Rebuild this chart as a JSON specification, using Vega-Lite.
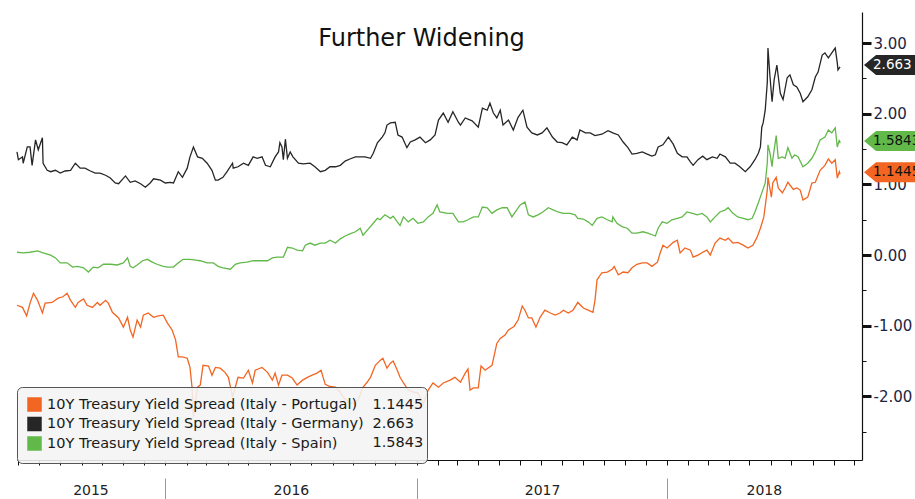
{
  "$schema": "https://vega.github.io/schema/vega-lite/v6.json",
  "width": 845,
  "height": 448,
  "autosize": {"type": "none"},
  "padding": {"left": 17, "top": 12, "right": 53, "bottom": 39},
  "background": "white",
  "title": {"text": "Further Widening", "anchor": "middle", "frame": "group", "fontSize": 24, "font": "DejaVu Sans", "fontWeight": "normal", "color": "#111", "offset": 0, "baseline": "bottom", "dy": 63, "dx": -18},
  "config": {"view": {"stroke": null}},
  "datasets": {
    "spreads": [
      {"date":"2015-05-30","series":"Germany","value":1.46},{"date":"2015-06-01","series":"Germany","value":1.35},{"date":"2015-06-07","series":"Germany","value":1.39},{"date":"2015-06-08","series":"Germany","value":1.30},{"date":"2015-06-14","series":"Germany","value":1.53},{"date":"2015-06-18","series":"Germany","value":1.53},{"date":"2015-06-21","series":"Germany","value":1.27},{"date":"2015-06-26","series":"Germany","value":1.63},{"date":"2015-06-30","series":"Germany","value":1.49},{"date":"2015-07-06","series":"Germany","value":1.66},{"date":"2015-07-07","series":"Germany","value":1.30},{"date":"2015-07-13","series":"Germany","value":1.20},{"date":"2015-07-18","series":"Germany","value":1.18},{"date":"2015-07-25","series":"Germany","value":1.20},{"date":"2015-08-01","series":"Germany","value":1.16},{"date":"2015-08-08","series":"Germany","value":1.19},{"date":"2015-08-16","series":"Germany","value":1.20},{"date":"2015-08-23","series":"Germany","value":1.30},{"date":"2015-08-30","series":"Germany","value":1.23},{"date":"2015-09-06","series":"Germany","value":1.23},{"date":"2015-09-14","series":"Germany","value":1.19},{"date":"2015-09-21","series":"Germany","value":1.16},{"date":"2015-09-28","series":"Germany","value":1.16},{"date":"2015-10-06","series":"Germany","value":1.13},{"date":"2015-10-13","series":"Germany","value":1.09},{"date":"2015-10-20","series":"Germany","value":1.02},{"date":"2015-10-25","series":"Germany","value":1.01},{"date":"2015-11-04","series":"Germany","value":1.12},{"date":"2015-11-11","series":"Germany","value":1.03},{"date":"2015-11-18","series":"Germany","value":1.05},{"date":"2015-11-26","series":"Germany","value":1.01},{"date":"2015-12-03","series":"Germany","value":0.96},{"date":"2015-12-10","series":"Germany","value":1.02},{"date":"2015-12-15","series":"Germany","value":1.08},{"date":"2015-12-25","series":"Germany","value":1.06},{"date":"2016-01-01","series":"Germany","value":1.02},{"date":"2016-01-08","series":"Germany","value":1.03},{"date":"2016-01-13","series":"Germany","value":1.02},{"date":"2016-01-20","series":"Germany","value":1.18},{"date":"2016-01-26","series":"Germany","value":1.10},{"date":"2016-02-02","series":"Germany","value":1.23},{"date":"2016-02-06","series":"Germany","value":1.39},{"date":"2016-02-11","series":"Germany","value":1.53},{"date":"2016-02-17","series":"Germany","value":1.39},{"date":"2016-02-24","series":"Germany","value":1.37},{"date":"2016-03-02","series":"Germany","value":1.30},{"date":"2016-03-09","series":"Germany","value":1.20},{"date":"2016-03-14","series":"Germany","value":1.06},{"date":"2016-03-18","series":"Germany","value":1.06},{"date":"2016-03-25","series":"Germany","value":1.10},{"date":"2016-03-31","series":"Germany","value":1.18},{"date":"2016-04-08","series":"Germany","value":1.30},{"date":"2016-04-09","series":"Germany","value":1.23},{"date":"2016-04-16","series":"Germany","value":1.25},{"date":"2016-04-24","series":"Germany","value":1.30},{"date":"2016-05-01","series":"Germany","value":1.27},{"date":"2016-05-08","series":"Germany","value":1.39},{"date":"2016-05-14","series":"Germany","value":1.37},{"date":"2016-05-21","series":"Germany","value":1.39},{"date":"2016-05-26","series":"Germany","value":1.27},{"date":"2016-06-02","series":"Germany","value":1.25},{"date":"2016-06-09","series":"Germany","value":1.39},{"date":"2016-06-14","series":"Germany","value":1.46},{"date":"2016-06-16","series":"Germany","value":1.59},{"date":"2016-06-19","series":"Germany","value":1.53},{"date":"2016-06-21","series":"Germany","value":1.35},{"date":"2016-06-24","series":"Germany","value":1.64},{"date":"2016-06-27","series":"Germany","value":1.37},{"date":"2016-07-01","series":"Germany","value":1.46},{"date":"2016-07-05","series":"Germany","value":1.39},{"date":"2016-07-13","series":"Germany","value":1.30},{"date":"2016-07-20","series":"Germany","value":1.29},{"date":"2016-07-30","series":"Germany","value":1.30},{"date":"2016-08-06","series":"Germany","value":1.25},{"date":"2016-08-14","series":"Germany","value":1.18},{"date":"2016-08-21","series":"Germany","value":1.20},{"date":"2016-08-28","series":"Germany","value":1.25},{"date":"2016-09-05","series":"Germany","value":1.25},{"date":"2016-09-12","series":"Germany","value":1.27},{"date":"2016-09-19","series":"Germany","value":1.33},{"date":"2016-09-26","series":"Germany","value":1.36},{"date":"2016-10-04","series":"Germany","value":1.39},{"date":"2016-10-11","series":"Germany","value":1.39},{"date":"2016-10-18","series":"Germany","value":1.39},{"date":"2016-10-26","series":"Germany","value":1.37},{"date":"2016-10-30","series":"Germany","value":1.44},{"date":"2016-11-05","series":"Germany","value":1.59},{"date":"2016-11-12","series":"Germany","value":1.67},{"date":"2016-11-16","series":"Germany","value":1.73},{"date":"2016-11-19","series":"Germany","value":1.84},{"date":"2016-11-24","series":"Germany","value":1.87},{"date":"2016-12-01","series":"Germany","value":1.88},{"date":"2016-12-05","series":"Germany","value":1.70},{"date":"2016-12-11","series":"Germany","value":1.67},{"date":"2016-12-18","series":"Germany","value":1.52},{"date":"2016-12-23","series":"Germany","value":1.60},{"date":"2016-12-30","series":"Germany","value":1.63},{"date":"2017-01-06","series":"Germany","value":1.67},{"date":"2017-01-14","series":"Germany","value":1.59},{"date":"2017-01-21","series":"Germany","value":1.63},{"date":"2017-01-28","series":"Germany","value":1.70},{"date":"2017-02-02","series":"Germany","value":1.91},{"date":"2017-02-09","series":"Germany","value":2.01},{"date":"2017-02-16","series":"Germany","value":1.88},{"date":"2017-02-23","series":"Germany","value":2.03},{"date":"2017-03-03","series":"Germany","value":1.88},{"date":"2017-03-06","series":"Germany","value":1.84},{"date":"2017-03-13","series":"Germany","value":1.94},{"date":"2017-03-23","series":"Germany","value":1.90},{"date":"2017-04-01","series":"Germany","value":1.81},{"date":"2017-04-07","series":"Germany","value":2.08},{"date":"2017-04-14","series":"Germany","value":2.05},{"date":"2017-04-18","series":"Germany","value":2.15},{"date":"2017-04-23","series":"Germany","value":2.01},{"date":"2017-04-28","series":"Germany","value":1.94},{"date":"2017-05-03","series":"Germany","value":2.05},{"date":"2017-05-07","series":"Germany","value":1.84},{"date":"2017-05-15","series":"Germany","value":1.91},{"date":"2017-05-22","series":"Germany","value":1.77},{"date":"2017-05-29","series":"Germany","value":1.95},{"date":"2017-06-05","series":"Germany","value":2.05},{"date":"2017-06-11","series":"Germany","value":1.81},{"date":"2017-06-18","series":"Germany","value":1.73},{"date":"2017-06-26","series":"Germany","value":1.70},{"date":"2017-07-03","series":"Germany","value":1.73},{"date":"2017-07-10","series":"Germany","value":1.80},{"date":"2017-07-18","series":"Germany","value":1.67},{"date":"2017-07-25","series":"Germany","value":1.60},{"date":"2017-08-01","series":"Germany","value":1.59},{"date":"2017-08-08","series":"Germany","value":1.56},{"date":"2017-08-16","series":"Germany","value":1.67},{"date":"2017-08-23","series":"Germany","value":1.63},{"date":"2017-08-27","series":"Germany","value":1.77},{"date":"2017-09-04","series":"Germany","value":1.73},{"date":"2017-09-11","series":"Germany","value":1.73},{"date":"2017-09-18","series":"Germany","value":1.69},{"date":"2017-09-28","series":"Germany","value":1.71},{"date":"2017-10-07","series":"Germany","value":1.76},{"date":"2017-10-14","series":"Germany","value":1.73},{"date":"2017-10-22","series":"Germany","value":1.70},{"date":"2017-10-29","series":"Germany","value":1.60},{"date":"2017-11-05","series":"Germany","value":1.52},{"date":"2017-11-11","series":"Germany","value":1.43},{"date":"2017-11-18","series":"Germany","value":1.44},{"date":"2017-11-26","series":"Germany","value":1.46},{"date":"2017-12-03","series":"Germany","value":1.43},{"date":"2017-12-10","series":"Germany","value":1.40},{"date":"2017-12-15","series":"Germany","value":1.42},{"date":"2017-12-19","series":"Germany","value":1.53},{"date":"2017-12-26","series":"Germany","value":1.56},{"date":"2018-01-03","series":"Germany","value":1.67},{"date":"2018-01-10","series":"Germany","value":1.57},{"date":"2018-01-16","series":"Germany","value":1.44},{"date":"2018-01-23","series":"Germany","value":1.39},{"date":"2018-01-30","series":"Germany","value":1.39},{"date":"2018-02-04","series":"Germany","value":1.32},{"date":"2018-02-08","series":"Germany","value":1.27},{"date":"2018-02-15","series":"Germany","value":1.35},{"date":"2018-02-22","series":"Germany","value":1.40},{"date":"2018-02-28","series":"Germany","value":1.35},{"date":"2018-03-08","series":"Germany","value":1.39},{"date":"2018-03-15","series":"Germany","value":1.37},{"date":"2018-03-19","series":"Germany","value":1.43},{"date":"2018-03-27","series":"Germany","value":1.39},{"date":"2018-04-03","series":"Germany","value":1.30},{"date":"2018-04-10","series":"Germany","value":1.30},{"date":"2018-04-17","series":"Germany","value":1.25},{"date":"2018-04-25","series":"Germany","value":1.18},{"date":"2018-05-02","series":"Germany","value":1.25},{"date":"2018-05-09","series":"Germany","value":1.35},{"date":"2018-05-14","series":"Germany","value":1.44},{"date":"2018-05-17","series":"Germany","value":1.53},{"date":"2018-05-19","series":"Germany","value":1.81},{"date":"2018-05-21","series":"Germany","value":1.87},{"date":"2018-05-24","series":"Germany","value":2.05},{"date":"2018-05-27","series":"Germany","value":2.44},{"date":"2018-05-28","series":"Germany","value":2.93},{"date":"2018-05-31","series":"Germany","value":2.52},{"date":"2018-06-03","series":"Germany","value":2.17},{"date":"2018-06-06","series":"Germany","value":2.48},{"date":"2018-06-10","series":"Germany","value":2.69},{"date":"2018-06-15","series":"Germany","value":2.29},{"date":"2018-06-19","series":"Germany","value":2.20},{"date":"2018-06-25","series":"Germany","value":2.51},{"date":"2018-06-29","series":"Germany","value":2.55},{"date":"2018-07-04","series":"Germany","value":2.41},{"date":"2018-07-09","series":"Germany","value":2.38},{"date":"2018-07-14","series":"Germany","value":2.29},{"date":"2018-07-18","series":"Germany","value":2.17},{"date":"2018-07-25","series":"Germany","value":2.24},{"date":"2018-07-31","series":"Germany","value":2.34},{"date":"2018-08-05","series":"Germany","value":2.52},{"date":"2018-08-09","series":"Germany","value":2.59},{"date":"2018-08-15","series":"Germany","value":2.83},{"date":"2018-08-19","series":"Germany","value":2.86},{"date":"2018-08-24","series":"Germany","value":2.79},{"date":"2018-08-29","series":"Germany","value":2.86},{"date":"2018-09-03","series":"Germany","value":2.93},{"date":"2018-09-06","series":"Germany","value":2.72},{"date":"2018-09-07","series":"Germany","value":2.62},{"date":"2018-09-10","series":"Germany","value":2.663},
      {"date":"2015-05-30","series":"Spain","value":0.04},{"date":"2015-06-08","series":"Spain","value":0.03},{"date":"2015-06-18","series":"Spain","value":0.04},{"date":"2015-06-29","series":"Spain","value":0.06},{"date":"2015-07-07","series":"Spain","value":0.03},{"date":"2015-07-18","series":"Spain","value":0.00},{"date":"2015-07-25","series":"Spain","value":-0.04},{"date":"2015-08-01","series":"Spain","value":-0.11},{"date":"2015-08-11","series":"Spain","value":-0.11},{"date":"2015-08-19","series":"Spain","value":-0.17},{"date":"2015-08-26","series":"Spain","value":-0.16},{"date":"2015-09-04","series":"Spain","value":-0.18},{"date":"2015-09-11","series":"Spain","value":-0.24},{"date":"2015-09-18","series":"Spain","value":-0.17},{"date":"2015-09-25","series":"Spain","value":-0.18},{"date":"2015-10-03","series":"Spain","value":-0.13},{"date":"2015-10-13","series":"Spain","value":-0.13},{"date":"2015-10-23","series":"Spain","value":-0.14},{"date":"2015-11-01","series":"Spain","value":-0.11},{"date":"2015-11-07","series":"Spain","value":-0.04},{"date":"2015-11-11","series":"Spain","value":-0.16},{"date":"2015-11-15","series":"Spain","value":-0.18},{"date":"2015-11-21","series":"Spain","value":-0.14},{"date":"2015-11-29","series":"Spain","value":-0.08},{"date":"2015-12-06","series":"Spain","value":-0.06},{"date":"2015-12-13","series":"Spain","value":-0.10},{"date":"2015-12-20","series":"Spain","value":-0.13},{"date":"2015-12-29","series":"Spain","value":-0.16},{"date":"2016-01-05","series":"Spain","value":-0.17},{"date":"2016-01-13","series":"Spain","value":-0.17},{"date":"2016-01-20","series":"Spain","value":-0.11},{"date":"2016-01-27","series":"Spain","value":-0.06},{"date":"2016-02-06","series":"Spain","value":-0.06},{"date":"2016-02-14","series":"Spain","value":-0.07},{"date":"2016-02-21","series":"Spain","value":-0.08},{"date":"2016-03-02","series":"Spain","value":-0.11},{"date":"2016-03-11","series":"Spain","value":-0.11},{"date":"2016-03-18","series":"Spain","value":-0.16},{"date":"2016-03-25","series":"Spain","value":-0.18},{"date":"2016-04-05","series":"Spain","value":-0.20},{"date":"2016-04-12","series":"Spain","value":-0.13},{"date":"2016-04-19","series":"Spain","value":-0.11},{"date":"2016-04-29","series":"Spain","value":-0.10},{"date":"2016-05-08","series":"Spain","value":-0.08},{"date":"2016-05-18","series":"Spain","value":-0.08},{"date":"2016-05-29","series":"Spain","value":-0.08},{"date":"2016-06-05","series":"Spain","value":-0.04},{"date":"2016-06-12","series":"Spain","value":-0.03},{"date":"2016-06-21","series":"Spain","value":-0.03},{"date":"2016-06-27","series":"Spain","value":0.11},{"date":"2016-07-04","series":"Spain","value":0.10},{"date":"2016-07-11","series":"Spain","value":0.07},{"date":"2016-07-19","series":"Spain","value":0.06},{"date":"2016-07-23","series":"Spain","value":0.14},{"date":"2016-07-30","series":"Spain","value":0.17},{"date":"2016-08-06","series":"Spain","value":0.14},{"date":"2016-08-14","series":"Spain","value":0.17},{"date":"2016-08-21","series":"Spain","value":0.17},{"date":"2016-08-28","series":"Spain","value":0.21},{"date":"2016-09-05","series":"Spain","value":0.17},{"date":"2016-09-12","series":"Spain","value":0.23},{"date":"2016-09-19","series":"Spain","value":0.27},{"date":"2016-09-26","series":"Spain","value":0.30},{"date":"2016-10-04","series":"Spain","value":0.33},{"date":"2016-10-11","series":"Spain","value":0.38},{"date":"2016-10-15","series":"Spain","value":0.28},{"date":"2016-10-23","series":"Spain","value":0.37},{"date":"2016-10-30","series":"Spain","value":0.45},{"date":"2016-11-05","series":"Spain","value":0.52},{"date":"2016-11-09","series":"Spain","value":0.50},{"date":"2016-11-16","series":"Spain","value":0.57},{"date":"2016-11-24","series":"Spain","value":0.52},{"date":"2016-11-28","series":"Spain","value":0.55},{"date":"2016-12-04","series":"Spain","value":0.47},{"date":"2016-12-08","series":"Spain","value":0.42},{"date":"2016-12-13","series":"Spain","value":0.54},{"date":"2016-12-20","series":"Spain","value":0.47},{"date":"2016-12-27","series":"Spain","value":0.52},{"date":"2017-01-03","series":"Spain","value":0.45},{"date":"2017-01-11","series":"Spain","value":0.47},{"date":"2017-01-18","series":"Spain","value":0.54},{"date":"2017-01-25","series":"Spain","value":0.59},{"date":"2017-01-31","series":"Spain","value":0.71},{"date":"2017-02-04","series":"Spain","value":0.61},{"date":"2017-02-15","series":"Spain","value":0.59},{"date":"2017-02-23","series":"Spain","value":0.59},{"date":"2017-03-03","series":"Spain","value":0.47},{"date":"2017-03-10","series":"Spain","value":0.47},{"date":"2017-03-17","series":"Spain","value":0.50},{"date":"2017-03-25","series":"Spain","value":0.54},{"date":"2017-04-01","series":"Spain","value":0.54},{"date":"2017-04-07","series":"Spain","value":0.68},{"date":"2017-04-14","series":"Spain","value":0.67},{"date":"2017-04-21","series":"Spain","value":0.59},{"date":"2017-04-28","series":"Spain","value":0.64},{"date":"2017-05-06","series":"Spain","value":0.67},{"date":"2017-05-13","series":"Spain","value":0.67},{"date":"2017-05-20","series":"Spain","value":0.54},{"date":"2017-05-25","series":"Spain","value":0.61},{"date":"2017-06-01","series":"Spain","value":0.71},{"date":"2017-06-08","series":"Spain","value":0.75},{"date":"2017-06-13","series":"Spain","value":0.57},{"date":"2017-06-20","series":"Spain","value":0.54},{"date":"2017-06-27","series":"Spain","value":0.57},{"date":"2017-07-04","series":"Spain","value":0.61},{"date":"2017-07-12","series":"Spain","value":0.67},{"date":"2017-07-19","series":"Spain","value":0.64},{"date":"2017-07-26","series":"Spain","value":0.61},{"date":"2017-08-03","series":"Spain","value":0.59},{"date":"2017-08-13","series":"Spain","value":0.59},{"date":"2017-08-20","series":"Spain","value":0.57},{"date":"2017-08-24","series":"Spain","value":0.52},{"date":"2017-09-01","series":"Spain","value":0.51},{"date":"2017-09-08","series":"Spain","value":0.47},{"date":"2017-09-14","series":"Spain","value":0.42},{"date":"2017-09-21","series":"Spain","value":0.52},{"date":"2017-09-28","series":"Spain","value":0.54},{"date":"2017-10-06","series":"Spain","value":0.50},{"date":"2017-10-13","series":"Spain","value":0.47},{"date":"2017-10-14","series":"Spain","value":0.54},{"date":"2017-10-20","series":"Spain","value":0.45},{"date":"2017-10-28","series":"Spain","value":0.40},{"date":"2017-11-04","series":"Spain","value":0.38},{"date":"2017-11-11","series":"Spain","value":0.31},{"date":"2017-11-18","series":"Spain","value":0.31},{"date":"2017-11-27","series":"Spain","value":0.33},{"date":"2017-12-04","series":"Spain","value":0.31},{"date":"2017-12-15","series":"Spain","value":0.27},{"date":"2017-12-19","series":"Spain","value":0.38},{"date":"2017-12-25","series":"Spain","value":0.47},{"date":"2018-01-01","series":"Spain","value":0.45},{"date":"2018-01-08","series":"Spain","value":0.50},{"date":"2018-01-16","series":"Spain","value":0.52},{"date":"2018-01-23","series":"Spain","value":0.54},{"date":"2018-01-30","series":"Spain","value":0.61},{"date":"2018-02-07","series":"Spain","value":0.59},{"date":"2018-02-14","series":"Spain","value":0.57},{"date":"2018-02-21","series":"Spain","value":0.59},{"date":"2018-02-28","series":"Spain","value":0.54},{"date":"2018-03-05","series":"Spain","value":0.47},{"date":"2018-03-12","series":"Spain","value":0.54},{"date":"2018-03-19","series":"Spain","value":0.61},{"date":"2018-03-27","series":"Spain","value":0.64},{"date":"2018-03-31","series":"Spain","value":0.67},{"date":"2018-04-07","series":"Spain","value":0.59},{"date":"2018-04-14","series":"Spain","value":0.54},{"date":"2018-04-22","series":"Spain","value":0.52},{"date":"2018-04-29","series":"Spain","value":0.50},{"date":"2018-05-05","series":"Spain","value":0.52},{"date":"2018-05-09","series":"Spain","value":0.61},{"date":"2018-05-14","series":"Spain","value":0.74},{"date":"2018-05-19","series":"Spain","value":0.88},{"date":"2018-05-24","series":"Spain","value":1.02},{"date":"2018-05-27","series":"Spain","value":1.30},{"date":"2018-05-28","series":"Spain","value":1.56},{"date":"2018-05-31","series":"Spain","value":1.44},{"date":"2018-06-03","series":"Spain","value":1.25},{"date":"2018-06-04","series":"Spain","value":1.35},{"date":"2018-06-09","series":"Spain","value":1.69},{"date":"2018-06-12","series":"Spain","value":1.37},{"date":"2018-06-18","series":"Spain","value":1.39},{"date":"2018-06-22","series":"Spain","value":1.37},{"date":"2018-06-26","series":"Spain","value":1.52},{"date":"2018-07-02","series":"Spain","value":1.37},{"date":"2018-07-06","series":"Spain","value":1.42},{"date":"2018-07-11","series":"Spain","value":1.39},{"date":"2018-07-18","series":"Spain","value":1.25},{"date":"2018-07-25","series":"Spain","value":1.30},{"date":"2018-07-31","series":"Spain","value":1.37},{"date":"2018-08-05","series":"Spain","value":1.46},{"date":"2018-08-12","series":"Spain","value":1.63},{"date":"2018-08-19","series":"Spain","value":1.67},{"date":"2018-08-24","series":"Spain","value":1.77},{"date":"2018-08-29","series":"Spain","value":1.73},{"date":"2018-09-03","series":"Spain","value":1.80},{"date":"2018-09-06","series":"Spain","value":1.53},{"date":"2018-09-09","series":"Spain","value":1.63},{"date":"2018-09-10","series":"Spain","value":1.5843},
      {"date":"2015-05-30","series":"Portugal","value":-0.71},{"date":"2015-06-07","series":"Portugal","value":-0.74},{"date":"2015-06-13","series":"Portugal","value":-0.86},{"date":"2015-06-18","series":"Portugal","value":-0.68},{"date":"2015-06-23","series":"Portugal","value":-0.54},{"date":"2015-06-29","series":"Portugal","value":-0.64},{"date":"2015-07-06","series":"Portugal","value":-0.82},{"date":"2015-07-10","series":"Portugal","value":-0.68},{"date":"2015-07-20","series":"Portugal","value":-0.67},{"date":"2015-07-29","series":"Portugal","value":-0.61},{"date":"2015-08-05","series":"Portugal","value":-0.59},{"date":"2015-08-11","series":"Portugal","value":-0.54},{"date":"2015-08-16","series":"Portugal","value":-0.64},{"date":"2015-08-23","series":"Portugal","value":-0.74},{"date":"2015-08-27","series":"Portugal","value":-0.67},{"date":"2015-09-04","series":"Portugal","value":-0.62},{"date":"2015-09-09","series":"Portugal","value":-0.71},{"date":"2015-09-17","series":"Portugal","value":-0.74},{"date":"2015-09-24","series":"Portugal","value":-0.67},{"date":"2015-09-28","series":"Portugal","value":-0.71},{"date":"2015-10-06","series":"Portugal","value":-0.64},{"date":"2015-10-10","series":"Portugal","value":-0.68},{"date":"2015-10-16","series":"Portugal","value":-0.81},{"date":"2015-10-25","series":"Portugal","value":-0.89},{"date":"2015-11-01","series":"Portugal","value":-1.02},{"date":"2015-11-07","series":"Portugal","value":-0.88},{"date":"2015-11-11","series":"Portugal","value":-1.06},{"date":"2015-11-15","series":"Portugal","value":-1.16},{"date":"2015-11-21","series":"Portugal","value":-0.92},{"date":"2015-11-26","series":"Portugal","value":-1.02},{"date":"2015-11-30","series":"Portugal","value":-0.85},{"date":"2015-12-07","series":"Portugal","value":-0.82},{"date":"2015-12-15","series":"Portugal","value":-0.88},{"date":"2015-12-22","series":"Portugal","value":-0.86},{"date":"2015-12-29","series":"Portugal","value":-0.85},{"date":"2016-01-04","series":"Portugal","value":-0.96},{"date":"2016-01-11","series":"Portugal","value":-1.06},{"date":"2016-01-16","series":"Portugal","value":-1.20},{"date":"2016-01-20","series":"Portugal","value":-1.44},{"date":"2016-01-26","series":"Portugal","value":-1.44},{"date":"2016-02-02","series":"Portugal","value":-1.46},{"date":"2016-02-06","series":"Portugal","value":-1.59},{"date":"2016-02-09","series":"Portugal","value":-1.87},{"date":"2016-02-11","series":"Portugal","value":-2.29},{"date":"2016-02-17","series":"Portugal","value":-1.87},{"date":"2016-02-21","series":"Portugal","value":-1.84},{"date":"2016-02-25","series":"Portugal","value":-1.56},{"date":"2016-03-04","series":"Portugal","value":-1.57},{"date":"2016-03-09","series":"Portugal","value":-1.70},{"date":"2016-03-14","series":"Portugal","value":-1.59},{"date":"2016-03-21","series":"Portugal","value":-1.60},{"date":"2016-03-28","series":"Portugal","value":-1.66},{"date":"2016-04-02","series":"Portugal","value":-1.73},{"date":"2016-04-08","series":"Portugal","value":-2.01},{"date":"2016-04-12","series":"Portugal","value":-1.87},{"date":"2016-04-16","series":"Portugal","value":-1.73},{"date":"2016-04-24","series":"Portugal","value":-1.74},{"date":"2016-05-01","series":"Portugal","value":-1.63},{"date":"2016-05-07","series":"Portugal","value":-1.81},{"date":"2016-05-11","series":"Portugal","value":-1.63},{"date":"2016-05-21","series":"Portugal","value":-1.59},{"date":"2016-05-29","series":"Portugal","value":-1.66},{"date":"2016-06-05","series":"Portugal","value":-1.77},{"date":"2016-06-09","series":"Portugal","value":-1.67},{"date":"2016-06-14","series":"Portugal","value":-1.84},{"date":"2016-06-19","series":"Portugal","value":-1.70},{"date":"2016-06-27","series":"Portugal","value":-1.70},{"date":"2016-07-04","series":"Portugal","value":-1.74},{"date":"2016-07-11","series":"Portugal","value":-1.84},{"date":"2016-07-19","series":"Portugal","value":-1.77},{"date":"2016-07-26","series":"Portugal","value":-1.73},{"date":"2016-08-02","series":"Portugal","value":-1.70},{"date":"2016-08-09","series":"Portugal","value":-1.67},{"date":"2016-08-15","series":"Portugal","value":-1.63},{"date":"2016-08-21","series":"Portugal","value":-1.83},{"date":"2016-08-28","series":"Portugal","value":-1.86},{"date":"2016-09-05","series":"Portugal","value":-1.87},{"date":"2016-09-12","series":"Portugal","value":-1.94},{"date":"2016-09-16","series":"Portugal","value":-2.01},{"date":"2016-09-24","series":"Portugal","value":-2.08},{"date":"2016-10-01","series":"Portugal","value":-2.10},{"date":"2016-10-08","series":"Portugal","value":-2.05},{"date":"2016-10-15","series":"Portugal","value":-1.87},{"date":"2016-10-21","series":"Portugal","value":-1.80},{"date":"2016-10-26","series":"Portugal","value":-1.73},{"date":"2016-11-02","series":"Portugal","value":-1.56},{"date":"2016-11-09","series":"Portugal","value":-1.49},{"date":"2016-11-13","series":"Portugal","value":-1.46},{"date":"2016-11-19","series":"Portugal","value":-1.60},{"date":"2016-11-24","series":"Portugal","value":-1.53},{"date":"2016-11-28","series":"Portugal","value":-1.50},{"date":"2016-12-04","series":"Portugal","value":-1.63},{"date":"2016-12-08","series":"Portugal","value":-1.73},{"date":"2016-12-13","series":"Portugal","value":-1.81},{"date":"2016-12-20","series":"Portugal","value":-1.91},{"date":"2016-12-27","series":"Portugal","value":-1.94},{"date":"2017-01-03","series":"Portugal","value":-1.95},{"date":"2017-01-11","series":"Portugal","value":-2.10},{"date":"2017-01-18","series":"Portugal","value":-1.91},{"date":"2017-01-25","series":"Portugal","value":-1.81},{"date":"2017-02-02","series":"Portugal","value":-1.87},{"date":"2017-02-09","series":"Portugal","value":-1.81},{"date":"2017-02-19","series":"Portugal","value":-1.77},{"date":"2017-02-26","series":"Portugal","value":-1.73},{"date":"2017-03-06","series":"Portugal","value":-1.80},{"date":"2017-03-13","series":"Portugal","value":-1.67},{"date":"2017-03-17","series":"Portugal","value":-1.61},{"date":"2017-03-20","series":"Portugal","value":-1.91},{"date":"2017-03-25","series":"Portugal","value":-1.88},{"date":"2017-04-01","series":"Portugal","value":-1.88},{"date":"2017-04-05","series":"Portugal","value":-1.57},{"date":"2017-04-11","series":"Portugal","value":-1.63},{"date":"2017-04-21","series":"Portugal","value":-1.56},{"date":"2017-04-28","series":"Portugal","value":-1.25},{"date":"2017-05-03","series":"Portugal","value":-1.18},{"date":"2017-05-10","series":"Portugal","value":-1.13},{"date":"2017-05-15","series":"Portugal","value":-1.06},{"date":"2017-05-23","series":"Portugal","value":-1.01},{"date":"2017-05-29","series":"Portugal","value":-0.92},{"date":"2017-06-04","series":"Portugal","value":-0.72},{"date":"2017-06-08","series":"Portugal","value":-0.78},{"date":"2017-06-13","series":"Portugal","value":-0.89},{"date":"2017-06-18","series":"Portugal","value":-0.89},{"date":"2017-06-24","series":"Portugal","value":-1.02},{"date":"2017-06-30","series":"Portugal","value":-0.88},{"date":"2017-07-07","series":"Portugal","value":-0.78},{"date":"2017-07-15","series":"Portugal","value":-0.82},{"date":"2017-07-22","series":"Portugal","value":-0.85},{"date":"2017-07-29","series":"Portugal","value":-0.82},{"date":"2017-08-03","series":"Portugal","value":-0.78},{"date":"2017-08-10","series":"Portugal","value":-0.82},{"date":"2017-08-17","series":"Portugal","value":-0.78},{"date":"2017-08-24","series":"Portugal","value":-0.67},{"date":"2017-09-01","series":"Portugal","value":-0.75},{"date":"2017-09-08","series":"Portugal","value":-0.78},{"date":"2017-09-15","series":"Portugal","value":-0.81},{"date":"2017-09-18","series":"Portugal","value":-0.64},{"date":"2017-09-21","series":"Portugal","value":-0.35},{"date":"2017-09-28","series":"Portugal","value":-0.25},{"date":"2017-10-06","series":"Portugal","value":-0.24},{"date":"2017-10-13","series":"Portugal","value":-0.20},{"date":"2017-10-16","series":"Portugal","value":-0.16},{"date":"2017-10-22","series":"Portugal","value":-0.28},{"date":"2017-10-29","series":"Portugal","value":-0.24},{"date":"2017-11-05","series":"Portugal","value":-0.25},{"date":"2017-11-11","series":"Portugal","value":-0.18},{"date":"2017-11-18","series":"Portugal","value":-0.13},{"date":"2017-11-26","series":"Portugal","value":-0.11},{"date":"2017-12-03","series":"Portugal","value":-0.11},{"date":"2017-12-10","series":"Portugal","value":-0.16},{"date":"2017-12-18","series":"Portugal","value":-0.10},{"date":"2017-12-22","series":"Portugal","value":0.03},{"date":"2017-12-26","series":"Portugal","value":0.14},{"date":"2018-01-01","series":"Portugal","value":0.10},{"date":"2018-01-10","series":"Portugal","value":0.18},{"date":"2018-01-16","series":"Portugal","value":0.21},{"date":"2018-01-20","series":"Portugal","value":0.03},{"date":"2018-01-27","series":"Portugal","value":0.10},{"date":"2018-02-04","series":"Portugal","value":0.07},{"date":"2018-02-08","series":"Portugal","value":-0.03},{"date":"2018-02-15","series":"Portugal","value":0.00},{"date":"2018-02-22","series":"Portugal","value":0.04},{"date":"2018-02-28","series":"Portugal","value":0.07},{"date":"2018-03-05","series":"Portugal","value":0.00},{"date":"2018-03-12","series":"Portugal","value":0.17},{"date":"2018-03-19","series":"Portugal","value":0.24},{"date":"2018-03-27","series":"Portugal","value":0.21},{"date":"2018-03-31","series":"Portugal","value":0.24},{"date":"2018-04-07","series":"Portugal","value":0.17},{"date":"2018-04-14","series":"Portugal","value":0.18},{"date":"2018-04-22","series":"Portugal","value":0.14},{"date":"2018-04-29","series":"Portugal","value":0.10},{"date":"2018-05-06","series":"Portugal","value":0.14},{"date":"2018-05-12","series":"Portugal","value":0.25},{"date":"2018-05-17","series":"Portugal","value":0.38},{"date":"2018-05-22","series":"Portugal","value":0.54},{"date":"2018-05-27","series":"Portugal","value":0.92},{"date":"2018-05-28","series":"Portugal","value":1.10},{"date":"2018-06-02","series":"Portugal","value":0.82},{"date":"2018-06-04","series":"Portugal","value":1.02},{"date":"2018-06-09","series":"Portugal","value":1.10},{"date":"2018-06-12","series":"Portugal","value":0.95},{"date":"2018-06-18","series":"Portugal","value":0.88},{"date":"2018-06-22","series":"Portugal","value":0.95},{"date":"2018-06-26","series":"Portugal","value":1.03},{"date":"2018-07-04","series":"Portugal","value":0.93},{"date":"2018-07-09","series":"Portugal","value":0.95},{"date":"2018-07-14","series":"Portugal","value":0.92},{"date":"2018-07-18","series":"Portugal","value":0.78},{"date":"2018-07-25","series":"Portugal","value":0.82},{"date":"2018-07-31","series":"Portugal","value":1.02},{"date":"2018-08-05","series":"Portugal","value":1.03},{"date":"2018-08-12","series":"Portugal","value":1.20},{"date":"2018-08-19","series":"Portugal","value":1.27},{"date":"2018-08-24","series":"Portugal","value":1.36},{"date":"2018-08-29","series":"Portugal","value":1.30},{"date":"2018-09-03","series":"Portugal","value":1.35},{"date":"2018-09-06","series":"Portugal","value":1.09},{"date":"2018-09-09","series":"Portugal","value":1.18},{"date":"2018-09-10","series":"Portugal","value":1.1445}
    ],
    "latest": [
      {"date":"2018-09-10","series":"Portugal","value":1.1445,"label":"1.1445"},
      {"date":"2018-09-10","series":"Germany","value":2.663,"label":"2.663"},
      {"date":"2018-09-10","series":"Spain","value":1.5843,"label":"1.5843"}
    ]
  },
  "resolve": {"scale": {"x": "independent"}, "axis": {"x": "independent"}},
  "layer": [
    {
      "data": {"name": "spreads"},
      "mark": {"type": "line", "strokeWidth": 1.3, "interpolate": "linear"},
      "encoding": {
        "x": {"field": "date", "type": "temporal",
          "scale": {"domain": [{"year":2015,"month":5,"date":30,"utc":true},{"year":2018,"month":10,"date":12,"utc":true}]},
          "axis": {"orient": "bottom", "title": null, "grid": false, "labels": false, "tickCount": {"interval": "month", "step": 1}, "tickSize": 5, "tickColor": "#111", "domainColor": "#111", "domainWidth": 1.2}},
        "y": {"field": "value", "type": "quantitative",
          "scale": {"domain": [-2.9, 3.44], "nice": false, "zero": false},
          "axis": {"orient": "right", "title": null, "grid": false,
            "values": [-2.5,-2,-1.5,-1,-0.5,0,0.5,1,1.5,2,2.5,3],
            "labelExpr": "datum.value % 1 === 0 ? replace(format(datum.value, '.2f'), '\u2212', '-') : ''",
            "tickSize": {"condition": {"test": "datum.value % 1 === 0", "value": 9}, "value": 4},
            "tickWidth": {"condition": {"test": "datum.value % 1 === 0", "value": 3}, "value": 1},
            "tickColor": "#111", "domainColor": "#111", "domainWidth": 1.2,
            "labelColor": "#1c2541", "labelFontSize": 15, "labelFont": "DejaVu Sans", "labelPadding": 2,
            "labelFlush": false, "labelOverlap": false}},
        "color": {"field": "series", "type": "nominal",
          "scale": {"domain": ["Portugal", "Germany", "Spain"], "range": ["#f26522", "#262626", "#62b94a"]},
          "legend": {"orient": "none", "legendX": 0, "legendY": 375, "title": null, "direction": "vertical",
            "fillColor": "rgba(243,244,243,0.88)", "strokeColor": "#555", "cornerRadius": 5, "padding": 10,
            "symbolType": "square", "symbolSize": 169, "labelFontSize": 14.5, "labelFont": "DejaVu Sans",
            "labelColor": "#1a1a1a", "labelOffset": 5, "rowPadding": 0.5, "labelLimit": 800,
            "labelExpr": "'10Y Treasury Yield Spread (Italy - ' + datum.label + ')' + '\u2800\u2800\u2800\u2800\u2800'"}}
      }
    },
    {
      "data": {"name": "latest"},
      "mark": {"type": "point", "filled": true, "opacity": 1, "size": 169, "shape": "M3.69,-0.31L5.54,-1.85L12,-1.85L12,1.23L5.54,1.23Z"},
      "encoding": {
        "x": {"field": "date", "type": "temporal",
          "scale": {"domain": [{"year":2015,"month":5,"date":30,"utc":true},{"year":2018,"month":10,"date":12,"utc":true}]},
          "axis": {"orient": "bottom", "title": null, "grid": false, "labels": false, "domain": false,
            "values": [{"year":2016,"month":1,"date":1,"utc":true},{"year":2017,"month":1,"date":1,"utc":true},{"year":2018,"month":1,"date":1,"utc":true}],
            "tickSize": 21, "offset": 18, "tickColor": "#999"}},
        "y": {"field": "value", "type": "quantitative"},
        "color": {"field": "series", "type": "nominal"}
      }
    },
    {
      "data": {"name": "latest"},
      "mark": {"type": "text", "align": "left", "baseline": "middle", "dx": 33, "dy": -2, "fontSize": 13.5, "font": "DejaVu Sans"},
      "encoding": {
        "x": {"field": "date", "type": "temporal",
          "scale": {"domain": [{"year":2015,"month":5,"date":30,"utc":true},{"year":2018,"month":10,"date":12,"utc":true}]},
          "axis": {"orient": "bottom", "title": null, "grid": false, "ticks": false, "domain": false,
            "values": [{"year":2015,"month":9,"date":14,"utc":true},{"year":2016,"month":7,"date":2,"utc":true},{"year":2017,"month":7,"date":3,"utc":true},{"year":2018,"month":5,"date":22,"utc":true}],
            "format": "%Y", "labelPadding": 23, "labelFontSize": 14, "labelFont": "DejaVu Sans", "labelColor": "#222", "labelFlush": false, "labelOverlap": false}},
        "y": {"field": "value", "type": "quantitative"},
        "text": {"field": "label"},
        "color": {"condition": {"test": "datum.series === 'Germany'", "value": "white"}, "value": "#111"},
        "opacity": {"field": "label", "type": "ordinal",
          "scale": {"domain": ["1.1445", "2.663", "1.5843"], "range": [1, 1, 1]},
          "legend": {"orient": "none", "legendX": 326, "legendY": 376, "title": null, "direction": "vertical",
            "padding": 10, "symbolType": "circle", "symbolSize": 0, "symbolOpacity": 0, "symbolStrokeWidth": 0,
            "labelFontSize": 14.5, "labelFont": "DejaVu Sans", "labelColor": "#1a1a1a", "labelOffset": 5, "rowPadding": 4}}
      }
    }
  ]
}
